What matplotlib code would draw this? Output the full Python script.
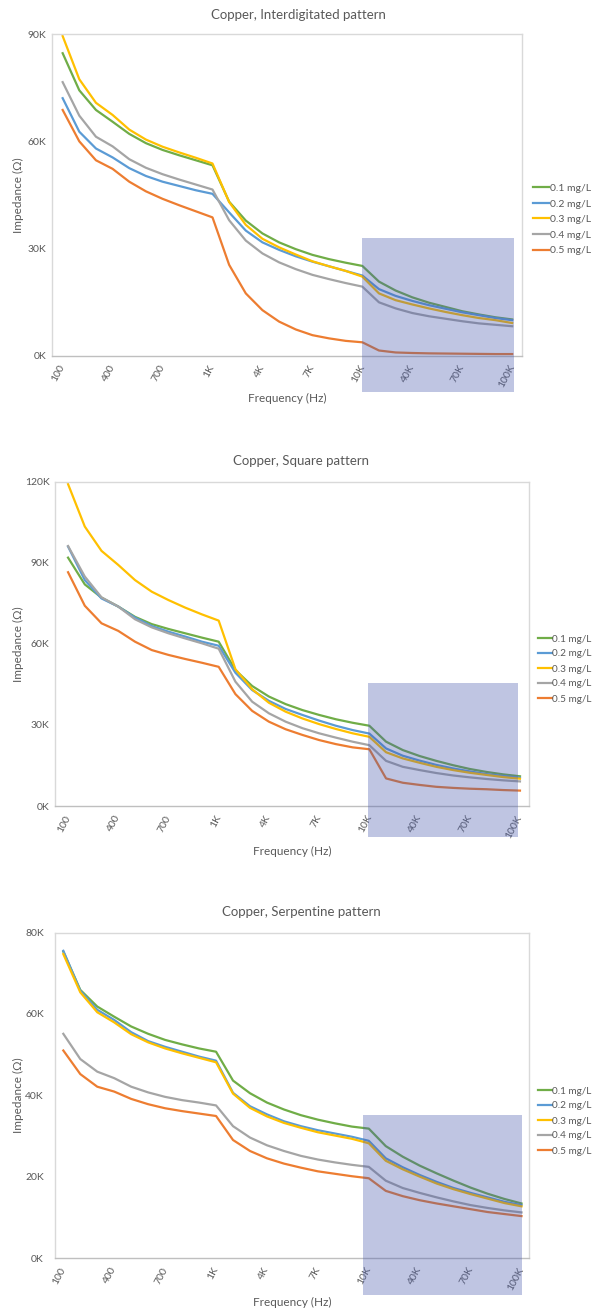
import matplotlib
matplotlib.use("Agg")
import matplotlib.pyplot as plt
from matplotlib.patches import Rectangle
from matplotlib.ticker import FuncFormatter

plt.rcParams['font.family'] = ['Lato', 'DejaVu Sans']

# ---- data ----
freq_labels = ["100", "200", "300", "400", "500", "600", "700", "800", "900", "1K",
               "2K", "3K", "4K", "5K", "6K", "7K", "8K", "9K", "10K",
               "20K", "30K", "40K", "50K", "60K", "70K", "80K", "90K", "100K"]
series_names = ["0.1 mg/L", "0.2 mg/L", "0.3 mg/L", "0.4 mg/L", "0.5 mg/L"]
series_colors = ["#70AD47", "#5B9BD5", "#FFC000", "#A5A5A5", "#ED7D31"]
titles = ["Copper, Interdigitated pattern", "Copper, Square pattern", "Copper, Serpentine pattern"]

# impedance in kOhm
inter_01 = [84.7, 74.3, 68.8, 65.5, 62.1, 59.5, 57.6, 56.1, 54.7, 53.3, 43.1, 37.8, 34.2, 31.7, 29.8, 28.2, 27.0, 26.0, 25.1, 20.7, 18.2, 16.3, 14.8, 13.6, 12.4, 11.5, 10.7, 10.1]
inter_02 = [72.1, 62.7, 58.0, 55.5, 52.5, 50.3, 48.7, 47.5, 46.3, 45.3, 40.1, 35.0, 31.7, 29.6, 27.8, 26.3, 25.0, 23.7, 22.4, 18.6, 16.7, 15.3, 14.1, 13.1, 12.1, 11.3, 10.5, 9.9]
inter_03 = [89.5, 77.4, 70.8, 67.4, 63.3, 60.5, 58.5, 56.9, 55.4, 53.8, 43.0, 36.6, 32.7, 30.3, 28.3, 26.4, 25.0, 23.7, 22.1, 17.4, 15.5, 14.3, 13.2, 12.2, 11.3, 10.5, 9.9, 9.1]
inter_04 = [76.6, 67.2, 61.3, 58.6, 55.0, 52.6, 50.8, 49.3, 47.9, 46.5, 37.9, 32.2, 28.6, 26.1, 24.2, 22.6, 21.4, 20.3, 19.3, 14.9, 13.2, 11.9, 11.0, 10.3, 9.6, 9.0, 8.6, 8.2]
inter_05 = [68.8, 60.0, 54.7, 52.3, 48.7, 46.0, 43.9, 42.1, 40.4, 38.7, 25.4, 17.4, 12.7, 9.5, 7.3, 5.7, 4.8, 4.1, 3.7, 1.4, 0.85, 0.7, 0.6, 0.55, 0.5, 0.45, 0.4, 0.4]

square_01 = [91.9, 82.0, 77.1, 73.8, 70.0, 67.3, 65.5, 63.9, 62.3, 60.8, 50.3, 44.4, 40.5, 37.7, 35.5, 33.7, 32.1, 30.8, 29.7, 23.8, 20.7, 18.5, 16.7, 15.1, 13.7, 12.6, 11.7, 11.0]
square_02 = [96.0, 83.6, 76.8, 73.8, 69.7, 66.6, 64.5, 62.7, 60.8, 59.3, 49.3, 42.9, 38.9, 35.9, 33.7, 31.6, 29.7, 28.1, 26.8, 21.3, 18.6, 16.8, 15.2, 13.9, 12.8, 11.8, 11.1, 10.5]
square_03 = [119.1, 103.4, 94.4, 89.2, 83.6, 79.3, 76.2, 73.4, 70.9, 68.6, 50.6, 43.2, 38.2, 34.9, 32.4, 30.3, 28.5, 26.9, 25.6, 19.9, 17.6, 16.0, 14.5, 13.3, 12.3, 11.5, 10.7, 10.1]
square_04 = [96.2, 84.9, 77.2, 73.8, 69.1, 66.1, 63.9, 62.0, 60.2, 58.2, 46.0, 38.6, 34.3, 31.2, 28.8, 26.9, 25.3, 23.8, 22.5, 16.7, 14.5, 13.3, 12.2, 11.3, 10.6, 10.0, 9.5, 9.1]
square_05 = [86.5, 74.1, 67.6, 64.8, 60.8, 57.7, 55.9, 54.4, 53.0, 51.5, 41.4, 35.2, 31.2, 28.4, 26.3, 24.4, 22.9, 21.7, 21.0, 10.2, 8.6, 7.8, 7.1, 6.7, 6.4, 6.2, 5.9, 5.7]

serp_01 = [75.3, 65.9, 61.8, 59.3, 56.9, 55.1, 53.6, 52.5, 51.5, 50.7, 43.6, 40.5, 38.2, 36.5, 35.1, 34.0, 33.1, 32.3, 31.8, 27.5, 24.9, 22.7, 20.8, 19.0, 17.3, 15.8, 14.5, 13.4]
serp_02 = [75.5, 65.7, 61.0, 58.5, 55.5, 53.3, 51.9, 50.7, 49.5, 48.5, 40.6, 37.3, 35.3, 33.6, 32.4, 31.4, 30.6, 29.8, 28.8, 24.5, 22.3, 20.4, 18.7, 17.2, 16.0, 14.9, 13.8, 13.0]
serp_03 = [74.7, 65.3, 60.4, 57.9, 55.0, 53.0, 51.5, 50.3, 49.2, 48.1, 40.4, 36.9, 34.8, 33.2, 32.0, 30.9, 30.1, 29.3, 28.2, 23.9, 21.8, 20.0, 18.3, 16.9, 15.7, 14.6, 13.5, 12.7]
serp_04 = [55.1, 48.9, 45.8, 44.2, 42.1, 40.7, 39.6, 38.8, 38.2, 37.5, 32.4, 29.6, 27.7, 26.3, 25.1, 24.2, 23.5, 22.9, 22.4, 19.0, 17.2, 16.0, 14.9, 13.9, 13.0, 12.3, 11.7, 11.2]
serp_05 = [51.0, 45.2, 42.1, 40.9, 39.1, 37.8, 36.8, 36.1, 35.5, 34.9, 29.0, 26.3, 24.5, 23.2, 22.2, 21.3, 20.7, 20.1, 19.6, 16.5, 15.2, 14.2, 13.4, 12.7, 12.0, 11.3, 10.8, 10.3]

panels_data = [
    [inter_01, inter_02, inter_03, inter_04, inter_05],
    [square_01, square_02, square_03, square_04, square_05],
    [serp_01, serp_02, serp_03, serp_04, serp_05],
]
y_max_k = [90, 120, 80]
y_step_k = [30, 30, 20]

# ---- layout (pixels) ----
W, H = 594, 1312
# left, right, top(ymax line), bottom(0 line)
boxes = [(52, 522, 34.3, 355.5), (55, 529, 481.7, 806), (55, 529, 932.5, 1258)]
xlims = [(-0.64, 27.59), (-0.78, 27.54), (-0.49, 27.44)]
title_pos = [(298, 15), (301, 461), (301, 912.5)]
xlabel_y = [398, 851, 1302]
legend_pos = [(533, 219.5), (538, 669), (538, 1121)]
legend_fs = [7.5, 7.2, 7.2]
legend_hl = [1.5, 1.35, 1.35]
# highlight rectangles (x in category index, y in kOhm)
rects = [(18.0, 27.1, -10.3, 32.8), (17.9, 26.9, -11.4, 45.4), (17.65, 27.0, -9.2, 35.1)]
ytick_pad = [4, 4, 8]

fig = plt.figure(figsize=(W / 100, H / 100), dpi=100)
fig.patch.set_facecolor('white')
txt = '#595959'
x = list(range(len(freq_labels)))

for p in range(3):
    l, r, t, b = boxes[p]
    ax = fig.add_axes([l / W, 1 - b / H, (r - l) / W, (b - t) / H])
    lines = []
    for s in range(5):
        vals = [v * 1000 for v in panels_data[p][s]]
        ln, = ax.plot(x, vals, color=series_colors[s], lw=1.6, label=series_names[s],
                      solid_joinstyle='round')
        lines.append(ln)
    ax.set_xlim(*xlims[p])
    ax.set_ylim(0, y_max_k[p] * 1000)
    yt = list(range(0, y_max_k[p] + 1, y_step_k[p]))
    ax.set_yticks([v * 1000 for v in yt])
    ax.yaxis.set_major_formatter(FuncFormatter(lambda v, pos: f"{v/1000:.0f}K"))
    ax.set_xticks(x[::3])
    ax.set_xticklabels(freq_labels[::3], rotation=62, ha='right', va='center',
                       rotation_mode='anchor')
    ax.tick_params(axis='both', length=0, labelsize=7.5, colors=txt)
    ax.tick_params(axis='y', pad=ytick_pad[p])
    ax.tick_params(axis='x', pad=7)
    for sp in ax.spines.values():
        sp.set_color('#d9d9d9')
        sp.set_linewidth(1.0)
    ax.spines['bottom'].set_color('#bfbfbf')

    tx, ty = title_pos[p]
    fig.text(tx / W, 1 - ty / H, titles[p], ha='center', va='center', fontsize=9.5, color=txt)
    fig.text((l + r) / 2 / W, 1 - xlabel_y[p] / H, "Frequency (Hz)", ha='center', va='center',
             fontsize=8.5, color=txt)
    fig.text(18 / W, 1 - (t + b) / 2 / H, "Impedance (\u03a9)", ha='center', va='center',
             rotation=90, fontsize=8.5, color=txt)

    lx, ly = legend_pos[p]
    fig.legend(handles=lines, labels=series_names, loc='center left',
               bbox_to_anchor=(lx / W, 1 - ly / H), frameon=False, fontsize=legend_fs[p],
               handlelength=legend_hl[p], handletextpad=0.1, labelspacing=0.6,
               borderpad=0, borderaxespad=0, labelcolor=txt)

    x0, x1, y0, y1 = rects[p]
    rect = Rectangle((x0, y0 * 1000), x1 - x0, (y1 - y0) * 1000, transform=ax.transData,
                     facecolor='#4859AC', alpha=0.35, edgecolor='none', zorder=10)
    fig.add_artist(rect)

fig.savefig('out.png', dpi=100, facecolor='white')
